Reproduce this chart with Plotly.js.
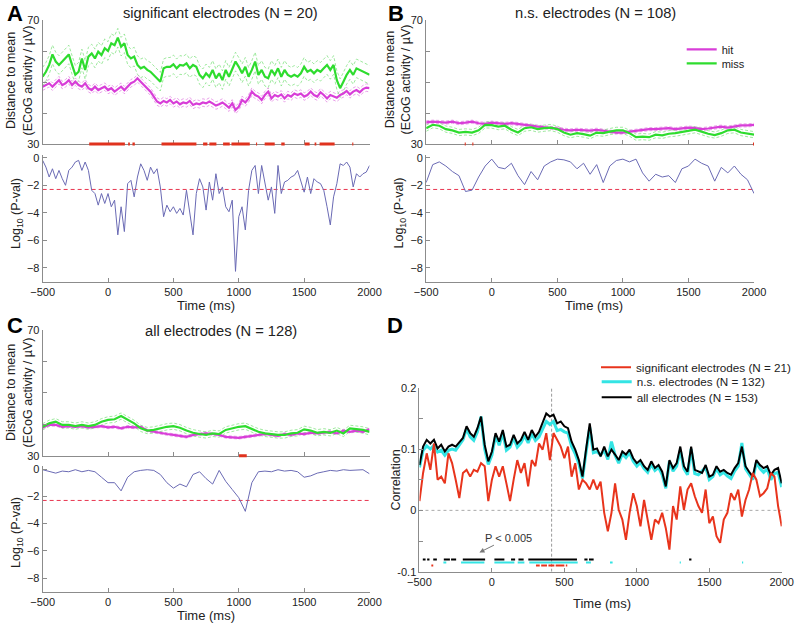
<!DOCTYPE html>
<html>
<head>
<meta charset="utf-8">
<script src="https://cdn.plot.ly/plotly-3.0.1.min.js"></script>
<style>
  html, body { margin: 0; padding: 0; background: #fff; }
  #chart { width: 797px; height: 629px; }
</style>
</head>
<body>
<div id="chart"></div>
<script>
// ---- data ----
const tStart = -500;
const tEnd = 2000;
const timeTicks = [-500, 0, 500, 1000, 1500, 2000];

// A: significant electrodes (25 ms samples)
const missA = [51.7, 53.3, 55.5, 58.9, 56.6, 55.5, 56.6, 57.6, 58.9, 55.5,
  52.3, 53.3, 57.6, 53.9, 58.2, 59.2, 57.6, 59.8, 58.7, 60.9,
  60.0, 62.5, 61.9, 64.3, 61.4, 62.5, 58.7, 57.6, 58.2, 55.5,
  54.4, 54.9, 53.9, 53.3, 52.3, 51.2, 50.1, 54.4, 54.9, 54.9,
  55.7, 54.4, 55.5, 55.3, 56.0, 54.4, 55.5, 54.9, 52.3, 51.2,
  52.8, 51.7, 53.9, 51.2, 52.8, 50.6, 53.9, 51.7, 54.4, 56.6,
  54.9, 52.8, 54.9, 51.7, 53.9, 56.6, 52.3, 53.9, 51.7, 51.2,
  53.9, 52.3, 54.4, 51.7, 53.9, 52.3, 51.7, 52.3, 51.7, 52.8,
  54.9, 53.3, 53.9, 52.8, 53.9, 53.3, 54.4, 55.5, 53.9, 55.5,
  50.6, 48.0, 50.1, 52.3, 53.9, 52.3, 54.4, 53.9, 53.3, 52.8,
  52.3];
const hitA = [48.5, 49.0, 49.6, 48.5, 49.6, 50.6, 49.0, 49.6, 50.6, 49.0,
  50.1, 49.0, 48.5, 49.6, 48.0, 47.4, 48.5, 47.4, 48.0, 48.5,
  47.4, 48.0, 46.9, 47.7, 48.5, 47.4, 48.5, 49.6, 50.1, 51.2,
  50.1, 49.0, 48.0, 46.9, 45.3, 43.7, 43.1, 43.9, 43.4, 44.2,
  43.1, 43.7, 42.8, 43.4, 43.1, 43.9, 42.6, 43.1, 42.8, 43.4,
  43.1, 43.7, 43.1, 42.4, 42.8, 43.4, 42.6, 41.7, 43.1, 41.0,
  42.0, 44.2, 43.4, 44.7, 46.9, 45.8, 45.3, 44.2, 45.8, 46.9,
  44.7, 45.8, 45.3, 46.0, 44.7, 45.8, 45.3, 46.3, 45.8, 46.3,
  45.3, 45.8, 46.9, 45.8, 45.3, 46.7, 45.8, 44.7, 45.8, 45.3,
  44.9, 45.8, 46.3, 47.1, 46.0, 46.9, 47.4, 46.7, 47.7, 48.2,
  48.0];
const pvalA = [-0.19, -0.68, -1.40, -0.80, -1.52, -0.92, -1.52, -2.00, -0.92, -0.68,
  -0.31, -0.19, -0.92, -0.31, -0.92, -2.36, -2.60, -3.44, -2.60, -3.32,
  -2.60, -3.56, -3.08, -5.60, -3.56, -5.36, -1.88, -1.64, -2.84, -1.40,
  -0.44, -0.92, -1.64, -0.68, -1.16, -0.80, -2.12, -4.28, -3.44, -3.92,
  -3.56, -4.04, -3.68, -4.16, -2.36, -4.04, -5.60, -2.60, -1.52, -2.12,
  -3.80, -1.76, -3.08, -1.16, -2.60, -2.12, -3.56, -3.92, -3.08, -8.25,
  -4.28, -3.56, -5.24, -2.36, -0.92, -0.56, -2.60, -0.56, -1.88, -3.08,
  -2.12, -4.04, -0.56, -2.60, -1.76, -1.64, -1.40, -1.28, -0.92, -1.76,
  -2.50, -1.40, -2.60, -1.52, -1.76, -1.88, -2.36, -3.56, -4.88, -2.84,
  -1.88, -0.44, -0.56, -0.31, -0.68, -2.12, -1.16, -1.40, -1.16, -1.04,
  -0.56];
const sigA = [[-144, 129], [154, 167], [187, 205], [409, 676], [727, 760], [775, 829],
  [880, 931], [944, 1084], [1132, 1140], [1198, 1275], [1325, 1351], [1504, 1542],
  [1580, 1593], [1618, 1733], [1868, 1876]];

// B: n.s. electrodes (50 ms samples)
const missB = [35.1, 36.2, 35.9, 34.8, 34.4, 33.7, 33.9, 33.7, 34.4, 36.2,
  36.1, 35.6, 35.9, 34.6, 33.7, 35.1, 35.4, 34.8, 35.1, 35.3,
  34.8, 33.7, 33.0, 33.5, 33.2, 32.7, 33.7, 33.5, 34.0, 34.4,
  34.4, 33.5, 32.2, 32.4, 32.2, 33.0, 32.8, 33.3, 33.5, 33.9,
  34.4, 34.6, 34.0, 33.3, 32.9, 33.5, 34.4, 34.6, 33.7, 33.3,
  33.0];
const hitB = [37.0, 37.2, 37.1, 36.9, 37.2, 36.7, 36.9, 37.2, 36.7, 36.5,
  36.9, 36.7, 36.5, 36.7, 36.5, 36.2, 35.9, 35.6, 35.4, 35.3,
  35.0, 34.6, 34.4, 34.6, 34.4, 34.3, 34.6, 34.4, 34.0, 33.7,
  33.7, 34.0, 34.3, 34.6, 34.8, 34.8, 35.0, 35.1, 34.8, 35.1,
  35.3, 35.1, 34.8, 35.0, 35.4, 35.6, 35.3, 35.6, 36.0, 36.0,
  36.2];
const pvalB = [-1.8, -0.5, -0.3, -0.6, -1.0, -1.3, -2.45, -2.35, -1.4, -0.6,
  -0.1, -0.7, -0.8, -0.4, -1.3, -1.95, -1.0, -1.6, -0.6, -0.3,
  -0.1, -0.15, -0.3, -0.8, -0.4, -1.2, -0.5, -1.8, -0.6, -0.2,
  -0.1, -0.3, -0.1, -1.1, -1.7, -1.2, -1.4, -1.3, -1.8, -0.8,
  -0.6, -0.1, -0.4, -0.6, -1.7, -0.7, -1.1, -0.6, -1.2, -1.6,
  -2.6];
const sigB = [[-206, -198], [-148, -140], [1992, 2000]];

// C: all electrodes (50 ms samples)
const missC = [39.2, 40.3, 40.8, 39.8, 39.8, 39.4, 39.8, 39.4, 39.8, 40.8,
  41.4, 41.6, 42.6, 41.4, 40.3, 38.7, 38.0, 38.2, 38.7, 39.2,
  39.4, 38.9, 38.0, 37.3, 36.9, 36.6, 37.1, 36.9, 38.2, 38.7,
  39.2, 39.4, 38.4, 37.6, 37.1, 36.8, 36.6, 36.6, 37.1, 37.3,
  38.4, 38.0, 37.3, 37.6, 37.3, 38.0, 37.1, 38.7, 38.4, 38.2,
  37.6];
const hitC = [39.0, 39.8, 39.8, 39.2, 39.4, 39.2, 39.4, 39.0, 39.2, 39.4,
  39.0, 39.2, 38.7, 39.2, 39.0, 39.2, 38.0, 37.6, 37.1, 36.9,
  36.6, 36.3, 36.0, 36.6, 36.9, 37.1, 36.9, 36.6, 36.0, 35.8,
  35.7, 36.0, 36.3, 36.6, 36.9, 36.6, 36.3, 36.9, 36.6, 37.1,
  36.9, 37.3, 37.1, 37.3, 37.6, 37.1, 38.0, 37.6, 38.0, 37.6,
  38.4];
const pvalC = [-0.05, -0.2, -0.3, -0.15, -0.2, -0.05, -0.2, -0.1, -0.2, -0.6,
  -1.0, -1.0, -1.6, -0.6, -0.2, -0.1, -0.05, -0.1, -0.4, -1.0,
  -1.4, -1.1, -1.3, -0.4, -0.2, -0.7, -1.1, -0.1, -0.9, -1.5,
  -2.1, -3.1, -1.0, -0.2, -0.15, -0.2, -0.05, -0.15, -0.1, -0.2,
  -0.6, -0.5, -0.3, -0.2, -0.1, -0.15, -0.05, -0.1, -0.1, -0.05,
  -0.35];
const sigC = [[1002, 1061]];

// standard errors (dashed bands)
const semMissA = 3.0, semHitA = 1.2;
const semMissB = 1.0, semHitB = 0.5;
const semMissC = 1.0, semHitC = 0.4;

// D: correlation (25 ms samples)
const corrSig = [0.015, 0.061, 0.093, 0.066, 0.109, 0.050, 0.055, 0.044, 0.093, 0.077,
  0.050, 0.020, 0.061, 0.066, 0.055, 0.066, 0.063, 0.077, 0.072, 0.015,
  0.050, 0.072, 0.055, 0.072, 0.044, 0.015, 0.050, 0.082, 0.061, 0.077,
  0.039, 0.082, 0.072, 0.109, 0.099, 0.126, 0.082, 0.126, 0.115, 0.104,
  0.085, 0.104, 0.055, 0.077, 0.034, 0.050, 0.044, 0.034, 0.050, 0.034,
  0.047, -0.004, -0.034, -0.004, 0.044, 0.001, -0.015, -0.048, -0.004, 0.028,
  0.007, -0.026, 0.017, -0.015, -0.048, -0.015, -0.021, -0.004, -0.029, -0.064,
  0.007, -0.015, 0.039, 0.001, 0.034, 0.044, 0.023, 0.007, -0.004, 0.034,
  -0.021, -0.010, -0.042, -0.053, -0.015, -0.004, 0.028, 0.017, 0.034, -0.010,
  0.017, 0.034, 0.061, 0.050, 0.023, 0.028, 0.036, 0.061, 0.055, 0.007,
  -0.026];
const corrNs = [0.070, 0.098, 0.105, 0.100, 0.106, 0.095, 0.098, 0.090, 0.098, 0.100,
  0.098, 0.106, 0.115, 0.133, 0.120, 0.114, 0.128, 0.153, 0.100, 0.075,
  0.090, 0.122, 0.106, 0.126, 0.098, 0.103, 0.118, 0.103, 0.110, 0.122,
  0.110, 0.125, 0.114, 0.120, 0.132, 0.145, 0.140, 0.145, 0.130, 0.132,
  0.128, 0.126, 0.104, 0.092, 0.076, 0.052, 0.095, 0.135, 0.094, 0.096,
  0.090, 0.098, 0.083, 0.112, 0.090, 0.077, 0.092, 0.086, 0.094, 0.080,
  0.072, 0.078, 0.068, 0.062, 0.075, 0.065, 0.070, 0.058, 0.036, 0.080,
  0.064, 0.072, 0.098, 0.068, 0.058, 0.100, 0.060, 0.058, 0.064, 0.070,
  0.050, 0.055, 0.068, 0.058, 0.062, 0.056, 0.052, 0.064, 0.072, 0.110,
  0.068, 0.058, 0.050, 0.078, 0.068, 0.062, 0.068, 0.050, 0.060, 0.062,
  0.038];
const corrAll = [0.074, 0.104, 0.115, 0.109, 0.115, 0.101, 0.107, 0.096, 0.104, 0.107,
  0.104, 0.112, 0.118, 0.137, 0.126, 0.120, 0.134, 0.153, 0.107, 0.080,
  0.096, 0.126, 0.112, 0.131, 0.104, 0.107, 0.123, 0.109, 0.115, 0.128,
  0.115, 0.131, 0.120, 0.128, 0.142, 0.158, 0.153, 0.156, 0.142, 0.145,
  0.137, 0.134, 0.112, 0.099, 0.082, 0.055, 0.100, 0.142, 0.099, 0.101,
  0.088, 0.104, 0.088, 0.099, 0.091, 0.082, 0.096, 0.091, 0.099, 0.085,
  0.077, 0.082, 0.072, 0.066, 0.080, 0.069, 0.074, 0.063, 0.039, 0.082,
  0.069, 0.077, 0.104, 0.072, 0.063, 0.104, 0.066, 0.063, 0.061, 0.074,
  0.055, 0.058, 0.072, 0.063, 0.066, 0.061, 0.058, 0.069, 0.077, 0.104,
  0.072, 0.063, 0.055, 0.082, 0.074, 0.069, 0.072, 0.058, 0.066, 0.069,
  0.044];
const sigAllD = [[-477, -458], [-447, -431], [-405, -380], [-332, -290], [-282, -247],
  [-201, -47], [17, 86], [132, 160], [183, 219], [251, 587], [638, 660], [670, 702], [1361, 1377]];
const sigNsD = [[-335, -315], [-213, -52], [17, 155], [178, 224], [258, 592], [649, 683],
  [815, 833], [1296, 1304], [1726, 1734]];
const sigSigD = [[-418, -405], [304, 330], [340, 380], [390, 431], [440, 500], [510, 520]];
const stimulusMs = 412;
const pThreshold = 0.005;

// ---- helpers ----
const W = 797, H = 629;
const FONT = 'Liberation Sans, Arial, sans-serif';
const xdom = (l, r) => [l / W, r / W];
const ydom = (top, bottom) => [1 - bottom / H, 1 - top / H];

function timeGrid(step) {
  const out = [];
  for (let t = tStart; t <= tEnd; t += step) out.push(t);
  return out;
}
const time25 = timeGrid(25);
const time50 = timeGrid(50);

function segments(intervals, level) {
  const x = [], y = [];
  intervals.forEach(([a, b]) => { x.push(a, b, null); y.push(level, level, null); });
  return { x, y };
}

const COL = {
  hit: '#d83ed8', hitBand: '#e389e3',
  miss: '#2edc2e', missBand: '#86e386',
  pline: '#6a6ab4', thresh: '#e8354f', sigStrip: '#e0321e',
  red: '#e8341c', cyan: '#34e4e4', black: '#000000', axis: '#8c8c8c', text: '#222'
};

function axisBase(extra) {
  return Object.assign({
    showline: true, linecolor: COL.axis, linewidth: 1, mirror: false,
    ticks: 'inside', ticklen: 4, tickcolor: COL.axis, tickwidth: 1,
    showgrid: false, zeroline: false, fixedrange: true,
    tickfont: { family: FONT, size: 11, color: COL.text }
  }, extra);
}

const traces = [];
const logT = Math.log10(pThreshold);

function meanPanel(xa, ya, time, hit, miss, semHit, semMiss, legends) {
  const band = (vals, sem, sign) => vals.map((v) => v + sign * sem);
  [[hit, semHit, COL.hitBand], [miss, semMiss, COL.missBand]].forEach(([vals, sem, c]) => {
    [1, -1].forEach((s) => traces.push({
      x: time, y: band(vals, sem, s), xaxis: xa, yaxis: ya, mode: 'lines',
      line: { color: c, width: 0.8, dash: '3px,2px' }, showlegend: false, hoverinfo: 'skip'
    }));
  });
  traces.push({ x: time, y: hit, xaxis: xa, yaxis: ya, mode: 'lines', name: 'hit',
    line: { color: COL.hit, width: 2.2 }, showlegend: !!legends, legend: legends ? legends[0] : 'legend' });
  traces.push({ x: time, y: miss, xaxis: xa, yaxis: ya, mode: 'lines', name: 'miss',
    line: { color: COL.miss, width: 2.2 }, showlegend: !!legends, legend: legends ? legends[1] : 'legend' });
}

function pvalPanel(xa, ya, time, pv) {
  // p < 0.005 threshold, drawn as a dashed trace across the time range
  traces.push({ x: [tStart, tEnd], y: [logT, logT], xaxis: xa, yaxis: ya, mode: 'lines',
    line: { color: COL.thresh, width: 1, dash: '4px,3px' }, showlegend: false, hoverinfo: 'skip' });
  traces.push({ x: time, y: pv, xaxis: xa, yaxis: ya, mode: 'lines',
    line: { color: COL.pline, width: 1 }, showlegend: false });
}

function stripPanel(xa, ya, intervals) {
  const s = segments(intervals, 0);
  traces.push({ x: s.x, y: s.y, xaxis: xa, yaxis: ya, mode: 'lines',
    line: { color: COL.sigStrip, width: 3 }, showlegend: false, hoverinfo: 'skip' });
}

meanPanel('x', 'y', time25, hitA, missA, semHitA, semMissA, null);
pvalPanel('x2', 'y2', time25, pvalA);
meanPanel('x3', 'y3', time50, hitB, missB, semHitB, semMissB, ['legend', 'legend2']);
pvalPanel('x4', 'y4', time50, pvalB);
meanPanel('x5', 'y5', time50, hitC, missC, semHitC, semMissC, null);
pvalPanel('x6', 'y6', time50, pvalC);
stripPanel('x8', 'y8', sigA);
stripPanel('x9', 'y9', sigB);
stripPanel('x10', 'y10', sigC);

// D
traces.push({ x: time25, y: corrNs, xaxis: 'x7', yaxis: 'y7', mode: 'lines',
  name: 'n.s. electrodes (N = 132)', line: { color: COL.cyan, width: 3 }, legend: 'legend4' });
traces.push({ x: time25, y: corrAll, xaxis: 'x7', yaxis: 'y7', mode: 'lines',
  name: 'all electrodes (N = 153)', line: { color: COL.black, width: 2 }, legend: 'legend5' });
traces.push({ x: time25, y: corrSig, xaxis: 'x7', yaxis: 'y7', mode: 'lines',
  name: 'significant electrodes (N = 21)', line: { color: COL.red, width: 2 }, legend: 'legend3' });
[[sigAllD, -0.080, COL.black], [sigNsD, -0.085, COL.cyan], [sigSigD, -0.090, COL.red]].forEach(([iv, lvl, c]) => {
  const s = segments(iv, lvl);
  traces.push({ x: s.x, y: s.y, xaxis: 'x7', yaxis: 'y7', mode: 'lines',
    line: { color: c, width: 2 }, showlegend: false, hoverinfo: 'skip' });
});

// ---- layout ----
const xA = xdom(42.7, 370), xB = xdom(426.7, 755), xD = xdom(420, 782.7);
const topRow = ydom(20, 144), pRow = ydom(155, 281.7);
const cTop = ydom(330, 455.7), cP = ydom(466.3, 591.9);
const dDom = ydom(387.7, 571.7);

const minorTicks = (d) => ({ dtick: d, ticks: 'inside', ticklen: 4, tickcolor: COL.axis, showgrid: false });
const meanY = (dom, anchor) => axisBase({ domain: dom, range: [30, 70], anchor,
  tickvals: [30, 70], minor: Object.assign(minorTicks(10), { tick0: 30 }) });
const pY = (dom, anchor) => axisBase({ domain: dom, range: [-9, 0.2], anchor,
  tickvals: [0, -2, -4, -6, -8] });
const tX = (dom, anchor, labels) => axisBase({ domain: dom, range: [tStart, tEnd], anchor,
  tickvals: timeTicks, showticklabels: labels });
const hidden = (dom, range, anchor) => ({ domain: dom, range, visible: false, fixedrange: true, anchor });

const shapes = [
  { type: 'line', xref: 'x7', yref: 'y7', x0: tStart, x1: tEnd, y0: 0, y1: 0,
    line: { color: '#aaaaaa', width: 1, dash: 'dot' }, layer: 'below' },
  { type: 'line', xref: 'x7', yref: 'y7', x0: stimulusMs, x1: stimulusMs, y0: -0.1, y1: 0.2,
    line: { color: '#999999', width: 1, dash: '3px,2px' }, layer: 'below' }
];

const ann = (text, px, py, opts) => Object.assign({
  text, xref: 'paper', yref: 'paper', x: px / W, y: 1 - py / H, showarrow: false,
  xanchor: 'center', yanchor: 'middle', font: { family: FONT, size: 13, color: COL.text }
}, opts || {});
const title = (t, px, py) => ann(t, px, py, { font: { family: FONT, size: 14.7, color: COL.text } });
const letter = (t, px, py) => ann(t, px, py, { font: { family: FONT, size: 22, color: '#000', weight: 'bold' } });
const yTitle = (t, px, py, size) => ann(t, px, py, { textangle: -90, font: { family: FONT, size: size || 12.5, color: COL.text } });

const annotations = [
  letter('A', 15, 13), letter('B', 396, 13), letter('C', 15, 325), letter('D', 395, 325),
  title('significant electrodes (N = 20)', 220.5, 13),
  title('n.s. electrodes (N = 108)', 596, 13.5),
  title('all electrodes (N = 128)', 221, 331.5),
  yTitle('Distance to mean<br>(ECoG activity / µV)', 19.5, 80),
  yTitle('Distance to mean<br>(ECoG activity / µV)', 398, 80),
  yTitle('Distance to mean<br>(ECoG activity / µV)', 19.5, 392),
  yTitle('Log<sub>10</sub> (P-val)', 17, 213),
  yTitle('Log<sub>10</sub> (P-val)', 401, 213),
  yTitle('Log<sub>10</sub> (P-val)', 17, 532),
  yTitle('Correlation', 396, 480),
  ann('Time (ms)', 206, 305), ann('Time (ms)', 595, 305),
  ann('Time (ms)', 206, 615), ann('Time (ms)', 602.5, 603),
  {
    text: 'P < 0.005', xref: 'x7', yref: 'y7', x: -86, y: -0.0685, ax: 29.5, ay: -14.7,
    showarrow: true, arrowhead: 2, arrowsize: 1, arrowwidth: 1, arrowcolor: '#777',
    xanchor: 'center', yanchor: 'middle', font: { family: FONT, size: 11, color: '#333' }
  }
];

// one legend per entry so each row sits where the figure puts it
const legendAt = (px, py, size) => ({ x: px / W, y: 1 - py / H, xanchor: 'left', yanchor: 'middle',
  bgcolor: 'rgba(0,0,0,0)', borderwidth: 0, font: { family: FONT, size, color: COL.text } });

const layout = {
  width: W, height: H, margin: { l: 0, r: 0, t: 0, b: 0 },
  paper_bgcolor: '#fff', plot_bgcolor: 'rgba(0,0,0,0)',
  font: { family: FONT, color: COL.text },
  xaxis: tX(xA, 'y', false), yaxis: meanY(topRow, 'x'),
  xaxis2: tX(xA, 'y2', true), yaxis2: pY(pRow, 'x2'),
  xaxis3: tX(xB, 'y3', false), yaxis3: meanY(topRow, 'x3'),
  xaxis4: tX(xB, 'y4', true), yaxis4: pY(pRow, 'x4'),
  xaxis5: tX(xA, 'y5', false), yaxis5: meanY(cTop, 'x5'),
  xaxis6: tX(xA, 'y6', true), yaxis6: pY(cP, 'x6'),
  xaxis7: tX(xD, 'y7', true),
  yaxis7: axisBase({ domain: dDom, range: [-0.1, 0.2], anchor: 'x7',
    tickvals: [-0.1, 0, 0.1, 0.2], ticktext: ['-0.1', '0', '0.1', '0.2'],
    minor: Object.assign(minorTicks(0.05), { tick0: 0 }) }),
  xaxis8: hidden(xA, [tStart, tEnd], 'y8'), yaxis8: hidden(ydom(139, 149), [-1, 1], 'x8'),
  xaxis9: hidden(xB, [tStart, tEnd], 'y9'), yaxis9: hidden(ydom(139, 149), [-1, 1], 'x9'),
  xaxis10: hidden(xA, [tStart, tEnd], 'y10'), yaxis10: hidden(ydom(450.7, 460.7), [-1, 1], 'x10'),
  shapes, annotations,
  legend: legendAt(681.7, 49.3, 11),
  legend2: legendAt(681.7, 63.3, 11),
  legend3: legendAt(596.7, 367.3, 11.7),
  legend4: legendAt(596.7, 381.7, 11.7),
  legend5: legendAt(596.7, 397.3, 11.7),
  showlegend: true
};

Plotly.newPlot('chart', traces, layout, { staticPlot: true, displayModeBar: false });
</script>
</body>
</html>
